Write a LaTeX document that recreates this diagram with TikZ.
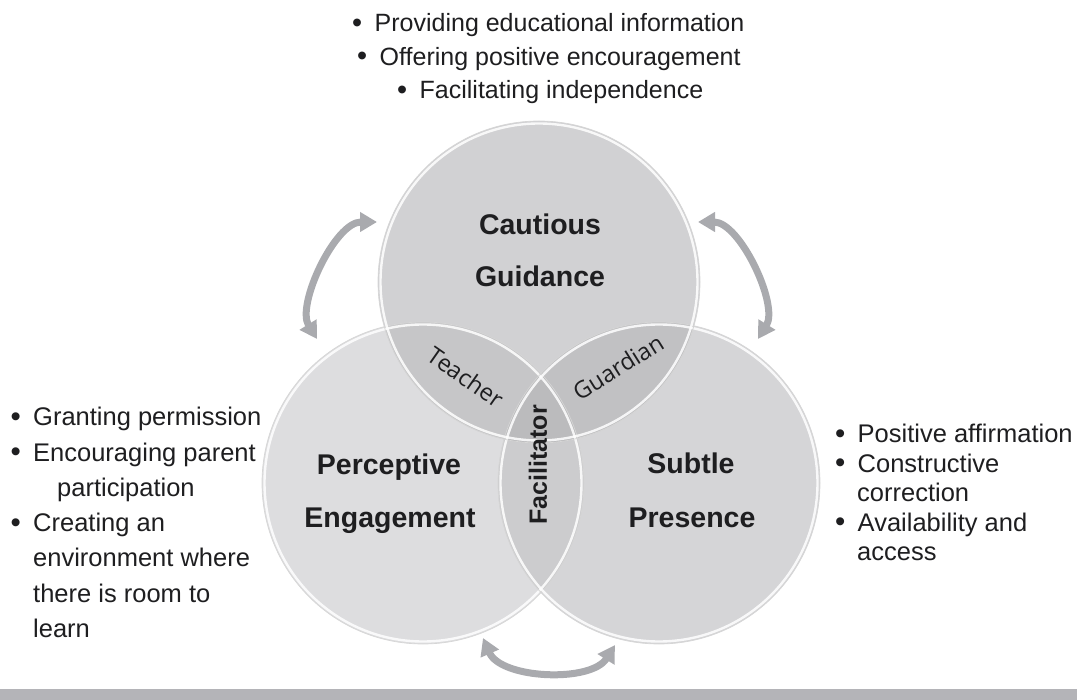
\documentclass[tikz,border=0pt]{standalone}
\usepackage{fontspec}
\usepackage{graphicx}
\setmainfont{Liberation Sans}
\newfontfamily\rolefont{Open Sans}
\usetikzlibrary{arrows.meta}

% circle and overlap shades
\definecolor{topfill}{RGB}{209,209,211}
\definecolor{leftfill}{RGB}{221,221,223}
\definecolor{rightfill}{RGB}{213,213,215}
\definecolor{tlfill}{RGB}{198,198,200}
\definecolor{trfill}{RGB}{193,193,195}
\definecolor{lrfill}{RGB}{204,204,206}
\definecolor{allfill}{RGB}{187,187,189}
\definecolor{arrowgray}{RGB}{169,170,174}
\definecolor{bargray}{RGB}{180,180,184}
\definecolor{inkgray}{RGB}{30,30,32}

\newcommand{\bitem}{\makebox[22.5pt][l]{\raisebox{-0.5pt}{\scalebox{1.15}{\textbullet}}}}

\begin{document}
\begin{tikzpicture}[x=1pt,y=-1pt,
  venn/.style={circle, inner sep=0pt, minimum size=322pt},
  rim/.style={white, line width=2.4pt, opacity=0.85},
  edgeline/.style={black!16, line width=0.7pt},
  cycle/.style={draw=arrowgray, line width=7pt,
    {Triangle[width=19pt,length=17pt]}-{Triangle[width=19pt,length=17pt]}},
  title/.style={font=\fontsize{28.5}{34}\selectfont\bfseries, text=inkgray, anchor=base, inner sep=0pt},
  role/.style={font=\rolefont\fontsize{23.5}{28}\selectfont, text=inkgray, inner sep=0pt},
  topitem/.style={font=\fontsize{25}{30}\selectfont, text=inkgray, anchor=base west, inner sep=0pt},
  item/.style={font=\fontsize{25.5}{30}\selectfont, text=inkgray, anchor=base west, inner sep=0pt}
]
\useasboundingbox (0,0) rectangle (1077,700);

% circle centres
\coordinate (cT) at (539,282);
\coordinate (cL) at (423,483);
\coordinate (cR) at (659,483);

% the three circles
\node[venn, fill=leftfill]  (left)  at (cL) {};
\node[venn, fill=rightfill] (right) at (cR) {};
\node[venn, fill=topfill]   (top)   at (cT) {};

% pairwise and triple overlaps
\begin{scope}
  \clip (cL) circle[radius=161pt];
  \fill[lrfill] (cR) circle[radius=161pt];
\end{scope}
\begin{scope}
  \clip (cT) circle[radius=161pt];
  \fill[tlfill] (cL) circle[radius=161pt];
  \fill[trfill] (cR) circle[radius=161pt];
  \clip (cL) circle[radius=161pt];
  \fill[allfill] (cR) circle[radius=161pt];
\end{scope}

% glossy rims
\foreach \c in {cL,cR,cT}{
  \draw[edgeline] (\c) circle[radius=161pt];
  \draw[rim] (\c) circle[radius=158.5pt];
}

% cycle arrows between the circles
\coordinate (lA) at (317,339); \coordinate (lB) at (377,222);
\coordinate (rA) at (758,339); \coordinate (rB) at (698,222);
\coordinate (bA) at (483,638); \coordinate (bB) at (615,645);
\draw[cycle] (lA) .. controls (296,305) and (335,222) .. (lB);
\draw[cycle] (rA) .. controls (779,305) and (740,222) .. (rB);
\draw[cycle] (bA) .. controls (501,679) and (591,683) .. (bB);

% circle titles
\node[title] (t1) at (540,235) {Cautious};
\node[title] (t2) at (540,287) {Guidance};
\node[title] (l1) at (389,475) {Perceptive};
\node[title] (l2) at (390,527) {Engagement};
\node[title] (r1) at (691,474) {Subtle};
\node[title] (r2) at (692,527) {Presence};

% overlap roles
\node[role, rotate=-35] (teacher) at (466,377) {Teacher};
\node[role, rotate=32] (guardian) at (618,367) {Guardian};
\node[font=\fontsize{25}{30}\selectfont\bfseries, text=inkgray, inner sep=0pt, rotate=90] (facil) at (538,465) {Facilitator};

% top list
\node[topitem] (a1) at (352,32) {\bitem Providing educational information};
\node[topitem] (a2) at (357,65.5) {\bitem Offering positive encouragement};
\node[topitem] (a3) at (397,99) {\bitem Facilitating independence};

% left list
\node[item] (b1) at (10.5,426) {\bitem Granting permission};
\node[item] (b2) at (10.5,461.2) {\bitem Encouraging parent};
\node[item] (b3) at (57,496.4) {participation};
\node[item] (b4) at (10.5,531.6) {\bitem Creating an};
\node[item] (b5) at (33,566.8) {environment where};
\node[item] (b6) at (33,602) {there is room to};
\node[item] (b7) at (33,637.2) {learn};

% right list
\node[item] (c1) at (835,443) {\bitem Positive affirmation};
\node[item] (c2) at (835,472.5) {\bitem Constructive};
\node[item] (c3) at (857,502) {correction};
\node[item] (c4) at (835,531.5) {\bitem Availability and};
\node[item] (c5) at (857,561) {access};

% footer bar
\fill[bargray] (0,689) rectangle (1077,700);
\end{tikzpicture}
\end{document}
